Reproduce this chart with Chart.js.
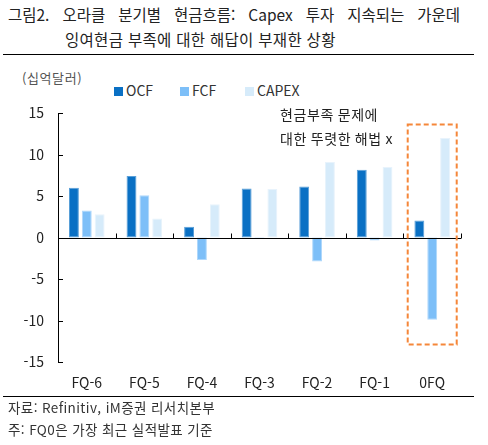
<!DOCTYPE html>
<html lang="ko">
<head>
<meta charset="UTF-8">
<title>오라클 분기별 현금흐름</title>
<style>
  body { margin: 0; width: 488px; height: 445px; background: #fff; position: relative; overflow: hidden;
         font-family: "Noto Sans CJK KR", "Noto Sans", sans-serif; color: #222; }
  .abs { position: absolute; white-space: nowrap; }
  #t1 { left: 8px; top: 3px; width: 452px; font-size: 15.5px; text-align: justify; text-align-last: justify; white-space: normal; }
  #t2 { left: 65px; top: 28px; font-size: 15.5px; letter-spacing: 0.3px; }
  .hr { position: absolute; left: 3px; width: 471px; height: 1px; background: #000; }
  #unit { left: 22px; top: 68px; font-size: 13px; color: #555; letter-spacing: 0.6px; }
  .lg { position: absolute; top: 80px; font-size: 14px; color: #333; }
  .lg span { display: inline-block; width: 9px; height: 9px; margin-right: 3px; vertical-align: 0px; }
  .note { left: 8px; font-size: 13.5px; color: #333; letter-spacing: 0.4px; }
  #wrap { position: absolute; left: 0; top: 0; width: 488px; height: 445px; }
</style>
</head>
<body>
<div class="abs" id="t1">그림2. 오라클 분기별 현금흐름: Capex 투자 지속되는 가운데</div>
<div class="abs" id="t2">잉여현금 부족에 대한 해답이 부재한 상황</div>
<div class="hr" style="top:54px"></div>
<div class="abs" id="unit">(십억달러)</div>
<div class="lg" style="left:114px"><span style="background:#0A70C4"></span>OCF</div>
<div class="lg" style="left:180px"><span style="background:#7DBFF8"></span>FCF</div>
<div class="lg" style="left:245px"><span style="background:#D6EBFA"></span>CAPEX</div>
<div id="wrap"><canvas id="myChart"></canvas></div>
<div class="hr" style="top:396px"></div>
<div class="abs note" style="top:397px">자료: Refinitiv, iM증권 리서치본부</div>
<div class="abs note" style="top:419px">주: FQ0은 가장 최근 실적발표 기준</div>

<script src="https://cdn.jsdelivr.net/npm/chart.js"></script>
<script>
// 분기 라벨
const quarters = ["FQ-6", "FQ-5", "FQ-4", "FQ-3", "FQ-2", "FQ-1", "0FQ"];
// 십억달러
const ocf   = [6.0, 7.4, 1.3, 5.9, 6.15, 8.15, 2.05];
const fcf   = [3.25, 5.1, -2.7, -0.1, -2.9, -0.35, -9.9];
const capex = [2.8, 2.3, 4.0, 5.85, 9.1, 8.5, 12.0];
const yTicks = [15, 10, 5, 0, -5, -10, -15];
// 주석
const noteLines = ["현금부족 문제에", "대한 뚜렷한 해법 x"];
const boxIndex = 6, boxTop = 13.6, boxBottom = -12.9;

// 축 눈금을 안쪽으로 그려줌 + 주석 박스
const extras = {
  id: "extras",
  afterDatasetsDraw(chart) {
    const c = chart.ctx, x = chart.scales.x, y = chart.scales.y, a = chart.chartArea;
    c.save();
    c.strokeStyle = "#000";
    c.lineWidth = 1;
    // y축
    c.beginPath();
    c.moveTo(a.left + 0.5, a.top);
    c.lineTo(a.left + 0.5, a.bottom);
    yTicks.forEach(v => {
      const py = Math.round(y.getPixelForValue(v)) + 0.5;
      c.moveTo(a.left, py);
      c.lineTo(a.left + 5, py);
    });
    // 0 라인
    const y0 = Math.round(y.getPixelForValue(0)) + 0.5;
    c.moveTo(a.left, y0);
    c.lineTo(a.right, y0);
    for (let i = 1; i <= quarters.length; i++) {
      const px = Math.round(a.left + (a.right - a.left) * i / quarters.length) + 0.5;
      c.moveTo(px, y0);
      c.lineTo(px, y0 - 5);
    }
    c.stroke();

    // 점선 박스
    const cx = x.getPixelForValue(boxIndex);
    c.strokeStyle = "#F5873A";
    c.lineWidth = 2;
    c.setLineDash([5, 3]);
    c.strokeRect(cx - 24.5, y.getPixelForValue(boxTop), 49, y.getPixelForValue(boxBottom) - y.getPixelForValue(boxTop));
    c.setLineDash([]);

    // 주석 텍스트
    c.fillStyle = "#222";
    c.font = "14px 'Noto Sans CJK KR'";
    c.letterSpacing = "0.6px";
    c.textBaseline = "middle";
    c.textAlign = "left";
    c.fillText(noteLines[0], 280, 115);
    c.fillText(noteLines[1], 280, 139);
    c.restore();
  }
};

const ctx = document.getElementById("myChart");
new Chart(ctx, {
  type: "bar",
  data: {
    labels: quarters,
    datasets: [
      { label: "OCF", data: ocf, backgroundColor: "#0A70C4", borderColor: "#5A9FD8", borderWidth: 1, borderSkipped: false },
      { label: "FCF", data: fcf, backgroundColor: "#7DBFF8", borderColor: "#B0D8FB", borderWidth: 1, borderSkipped: false },
      { label: "CAPEX", data: capex, backgroundColor: "#D6EBFA", borderColor: "#E8F3FC", borderWidth: 1, borderSkipped: false }
    ]
  },
  options: {
    responsive: true,
    maintainAspectRatio: false,
    animation: false,
    datasets: { bar: { categoryPercentage: 0.67, barPercentage: 0.77 } },
    layout: { padding: { left: 0, right: 27, top: 113, bottom: 53 } },
    plugins: { legend: { display: false }, tooltip: { enabled: false } },
    scales: {
      x: {
        grid: { display: false, drawTicks: false },
        border: { display: false },
        ticks: { padding: 12, color: "#222", font: { size: 14, family: "'Noto Sans CJK KR'" } },
        afterFit(s) { s.height = 30; }
      },
      y: {
        min: -15, max: 15,
        afterBuildTicks(s) { s.ticks = yTicks.map(v => ({ value: v })); },
        grid: { display: false, drawTicks: false },
        border: { display: false },
        ticks: { padding: 14, color: "#222", font: { size: 14, family: "'Noto Sans CJK KR'" } },
        afterFit(s) { s.width = 58; }
      }
    }
  },
  plugins: [extras]
});
</script>
</body>
</html>
